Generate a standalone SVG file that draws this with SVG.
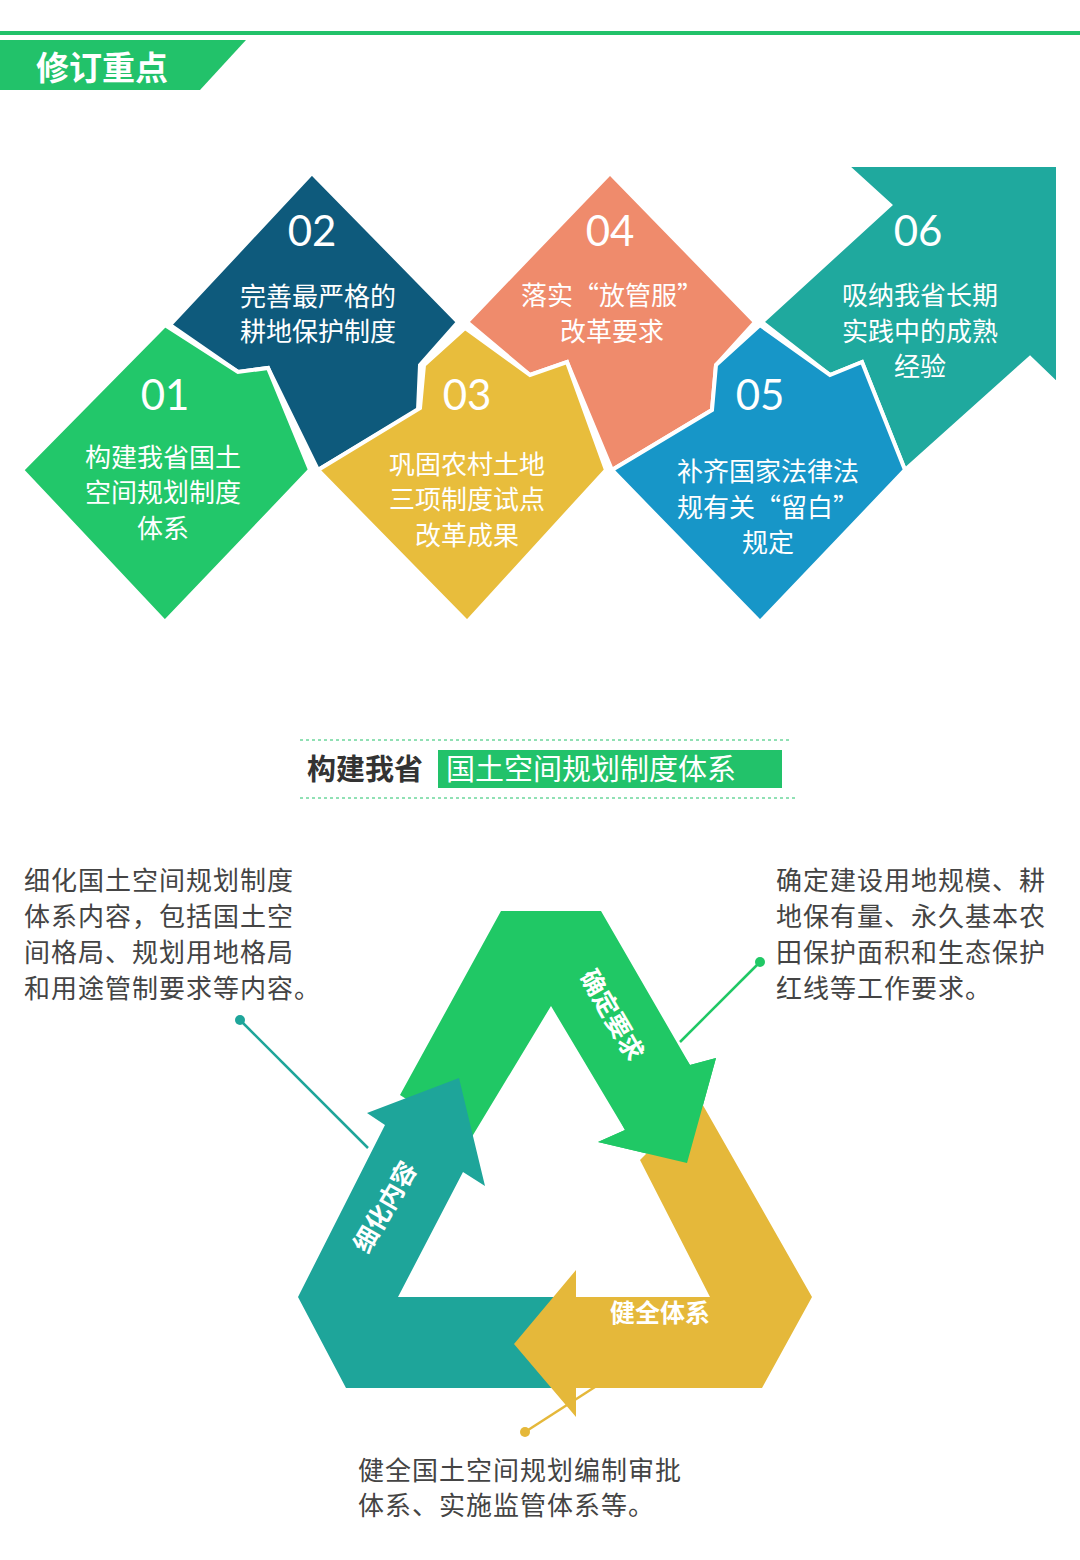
<svg xmlns="http://www.w3.org/2000/svg" width="1080" height="1560" viewBox="0 0 1080 1560">
<style>
.sh{stroke:#fff;stroke-width:4;stroke-linejoin:miter}
.num{font-family:Lato,"Open Sans",sans-serif;font-size:42px;fill:#fff;text-anchor:middle}
.t{font-family:"Noto Sans CJK SC",sans-serif;font-size:26px;fill:#fff;text-anchor:middle}
.d{font-family:"Noto Sans CJK SC",sans-serif;font-size:26px;fill:#444;letter-spacing:1px}
.lb{font-family:"Noto Sans CJK SC",sans-serif;font-size:25px;font-weight:bold;fill:#fff;text-anchor:middle}
</style>
<rect width="1080" height="1560" fill="#fff"/>
<rect x="0" y="31" width="1080" height="4" fill="#22c26a"/>
<polygon points="0,40 246,40 200,90 0,90" fill="#22c26a"/>
<text x="36" y="80" font-family="Noto Sans CJK SC,sans-serif" font-size="33" font-weight="bold" fill="#fff">修订重点</text>

<g id="n06"><polygon class="sh" fill="#1fa99e" points="762,322 890,205 846,165 1058,165 1058,385 1030,358 905,470 862,362 830,375"/>
<text class="num" x="918" y="246">06</text><text class="t" x="920" y="305">吸纳我省长期</text><text class="t" x="920" y="341">实践中的成熟</text><text class="t" x="920" y="376">经验</text></g>
<g id="n04"><polygon class="sh" fill="#ef8b6c" points="610,173 755,322 716,365 712,410 612,470 567,362 530,375 467,322"/>
<text class="num" x="610" y="246">04</text><text class="t" x="612" y="305">落实“放管服”</text><text class="t" x="612" y="341">改革要求</text></g>
<g id="n02"><polygon class="sh" fill="#0e5a7c" points="312,173 458,322 420,365 418,410 318,470 268,368 238,372 170,325"/>
<text class="num" x="312" y="246">02</text><text class="t" x="318" y="306">完善最严格的</text><text class="t" x="318" y="341">耕地保护制度</text></g>
<g id="n01"><polygon class="sh" fill="#22c76a" points="165,325 238,372 268,368 310,470 165,622 22,470"/>
<text class="num" x="165" y="410">01</text><text class="t" x="163" y="467">构建我省国土</text><text class="t" x="163" y="502">空间规划制度</text><text class="t" x="163" y="538">体系</text></g>
<g id="n03"><polygon class="sh" fill="#e8bd3c" points="318,470 420,408 424,365 465,328 530,375 567,362 606,470 467,622"/>
<text class="num" x="467" y="410">03</text><text class="t" x="467" y="474">巩固农村土地</text><text class="t" x="467" y="509">三项制度试点</text><text class="t" x="467" y="545">改革成果</text></g>
<g id="n05"><polygon class="sh" fill="#1796c8" points="612,470 712,410 716,365 760,325 830,375 862,362 905,470 760,622"/>
<text class="num" x="760" y="410">05</text><text class="t" x="768" y="481">补齐国家法律法</text><text class="t" x="768" y="517">规有关“留白”</text><text class="t" x="768" y="552">规定</text></g>

<line x1="300" y1="740" x2="790" y2="740" stroke="#22c26a" stroke-width="1" stroke-dasharray="3,3"/>
<line x1="300" y1="798" x2="795" y2="798" stroke="#22c26a" stroke-width="1" stroke-dasharray="3,3"/>
<text x="307" y="780" font-family="Noto Sans CJK SC,sans-serif" font-size="29" font-weight="bold" fill="#333">构建我省</text>
<rect x="438" y="750" width="344" height="38" fill="#22c26a"/>
<text x="446" y="780" font-family="Noto Sans CJK SC,sans-serif" font-size="29" fill="#fff">国土空间规划制度体系</text>

<g id="connectors">
<line x1="240" y1="1020" x2="368" y2="1148" stroke="#1ea59a" stroke-width="2.5"/><circle cx="240" cy="1020" r="5" fill="#1ea59a"/>
<line x1="760" y1="962" x2="680" y2="1042" stroke="#20c865" stroke-width="2.5"/><circle cx="760" cy="962" r="5" fill="#20c865"/>
<line x1="525" y1="1432" x2="640" y2="1358" stroke="#e5b83a" stroke-width="2.5"/><circle cx="525" cy="1432" r="5" fill="#e5b83a"/>
</g>

<g id="cycle">
<polygon fill="#20c865" points="501,911 601,911 690,1065 716,1058 687,1163 598,1142 625,1130 551,1006 470,1140 400,1095"/>
<polygon fill="#1ea59a" points="580,1388 346,1388 298,1297 385,1125 367,1113 459,1078 485,1186 463,1172 398,1297 580,1297"/>
<polygon fill="#e5b83a" points="700,1100 812,1297 762,1388 576,1388 576,1417 514,1344 576,1270 576,1297 710,1297 640,1160"/>
<polygon fill="#20c865" points="660,1020 690,1065 716,1058 687,1163 598,1142 625,1130 610,1100"/>
<text class="lb" transform="translate(612,1015) rotate(60)" y="9">确定要求</text>
<text class="lb" transform="translate(385,1207) rotate(-60)" y="9">细化内容</text>
<text class="lb" x="660" y="1322">健全体系</text>
</g>

<text class="d" x="24" y="890">细化国土空间规划制度</text>
<text class="d" x="24" y="926">体系内容，包括国土空</text>
<text class="d" x="24" y="962">间格局、规划用地格局</text>
<text class="d" x="24" y="998">和用途管制要求等内容。</text>
<text class="d" x="776" y="890">确定建设用地规模、耕</text>
<text class="d" x="776" y="926">地保有量、永久基本农</text>
<text class="d" x="776" y="962">田保护面积和生态保护</text>
<text class="d" x="776" y="998">红线等工作要求。</text>
<text class="d" x="358" y="1480">健全国土空间规划编制审批</text>
<text class="d" x="358" y="1515">体系、实施监管体系等。</text>
</svg>
